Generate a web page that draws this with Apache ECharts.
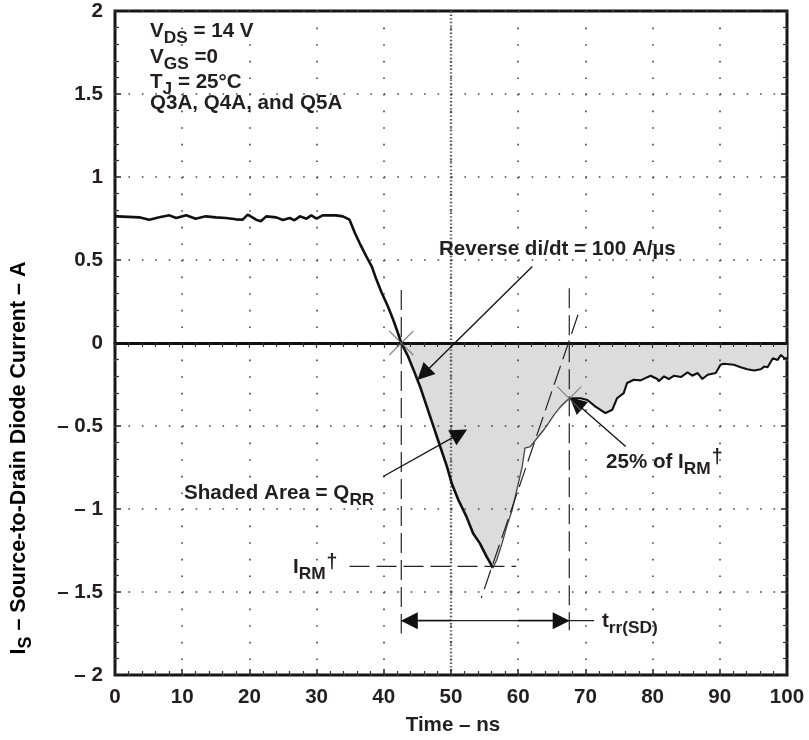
<!DOCTYPE html>
<html><head><meta charset="utf-8">
<script src="https://cdn.jsdelivr.net/npm/echarts@6/dist/echarts.min.js"></script>
<style>html,body{margin:0;padding:0;background:#fff}#c{width:809px;height:740px}</style>
</head><body><div id="c"></div>
<script>
// ---- data ----
const timeNs = [0, 0.3, 3.6, 5.1, 6.6, 8.1, 9.1, 10.6, 12.0, 13.5,
  15.0, 16.5, 18.0, 19.0, 19.75, 21.0, 21.7, 22.5, 24.0, 25.0,
  26.0, 26.7, 27.5, 28.5, 29.2, 30.0, 30.9, 32.9, 33.9, 34.9,
  35.7, 36.4, 37.4, 38.2, 38.9, 39.7, 40.6, 41.4, 42.1, 42.6,
  43.6, 44.6, 45.4, 46.4, 47.4, 48.4, 49.4, 50.1, 51.1, 52.3,
  53.3, 54.3, 55.3, 56.0, 56.2, 56.8, 57.6, 58.3, 59.1, 59.8,
  60.6, 61.0, 61.8, 62.8, 63.8, 64.5, 65.3, 66.3, 67.3, 68.0,
  69.3, 70.3, 71.5, 72.2, 73.0, 74.0, 74.7, 75.7, 76.2, 77.2,
  78.2, 79.7, 80.7, 80.9, 81.7, 82.4, 83.2, 84.2, 85.2, 85.9,
  86.7, 87.4, 88.2, 89.4, 90.1, 90.6, 92.1, 93.1, 94.1, 95.1,
  96.1, 96.6, 97.1, 97.9, 98.6, 99.1, 99.6, 100];
const currentA = [0.763, 0.763, 0.757, 0.743, 0.757, 0.769, 0.753, 0.769, 0.749, 0.763,
  0.757, 0.753, 0.745, 0.743, 0.773, 0.743, 0.733, 0.763, 0.757, 0.741,
  0.753, 0.739, 0.763, 0.749, 0.769, 0.749, 0.769, 0.769, 0.763, 0.743,
  0.663, 0.602, 0.522, 0.462, 0.382, 0.301, 0.221, 0.14, 0.06, 0,
  -0.08, -0.18, -0.263, -0.383, -0.504, -0.625, -0.745, -0.845, -0.946, -1.046,
  -1.147, -1.207, -1.287, -1.337, -1.356, -1.307, -1.207, -1.106, -1.006, -0.884,
  -0.745, -0.634, -0.624, -0.574, -0.524, -0.484, -0.434, -0.383, -0.343, -0.333,
  -0.333, -0.343, -0.383, -0.402, -0.422, -0.402, -0.333, -0.302, -0.241, -0.221,
  -0.225, -0.197, -0.217, -0.231, -0.201, -0.217, -0.197, -0.205, -0.177, -0.197,
  -0.181, -0.217, -0.191, -0.181, -0.131, -0.125, -0.131, -0.146, -0.158, -0.166,
  -0.158, -0.142, -0.146, -0.092, -0.102, -0.072, -0.092, -0.09];
const zeroCrossNs = 42.6;   // start of reverse recovery (shading starts)
const peakNs = 56.2;        // I_RM point
const recoverNs = 68.0;     // end of thin recovery trace
const xTicks = [0, 10, 20, 30, 40, 50, 60, 70, 80, 90, 100];
const yTicks = [-2, -1.5, -1, -0.5, 0, 0.5, 1, 1.5, 2];

// annotation geometry (data units)
const trrStartDash = [[42.6, 0.32], [42.6, -1.75]];
const trrEndDash = [[67.6, 0.33], [67.6, -1.73]];
const irmDash = [[34.9, -1.346], [59.7, -1.346]];
const slopeDash = [[68.9, 0.17], [54.5, -1.536]];
const trrLine = [[42.6, -1.673], [71.3, -1.673]];
const centerGraticule = [[50, 2], [50, -2]];
const arrowSegs = [
  [[62.1, 0.461], [45.9, -0.187]],
  [[39.9, -0.804], [51.3, -0.546]],
  [[76.0, -0.623], [68.6, -0.361]],
  [[50.0, -1.673], [43.8, -1.673]],
  [[60.0, -1.673], [66.4, -1.673]]
];
const crossMarks = [[42.6, 0], [67.6, -0.335]];

// ---- chart ----
const FONT = '"Liberation Sans", Arial, Helvetica, sans-serif';
const INK = '#231f20';
const chart = echarts.init(document.getElementById('c'));
const pts = timeNs.map((t, i) => [t, currentA[i]]);
const iZero = timeNs.indexOf(zeroCrossNs), iMin = timeNs.indexOf(peakNs), iRec = timeNs.indexOf(recoverNs);

const GL = 115, GT = 11, GW = 672, GH = 664;
const FS = 20.6;
const labelStyle = {fontFamily: FONT, fontWeight: 'bold', fontSize: FS, color: INK};
function makeRich(fs) {
  return {
    m: {fontFamily: FONT, fontWeight: 'bold', fontSize: fs, lineHeight: fs + 2, color: INK},
    s: {fontFamily: FONT, fontWeight: 'bold', fontSize: fs * 0.84, lineHeight: 18, padding: [14, 0, 0, 0], color: INK},
    u: {fontFamily: FONT, fontWeight: 'bold', fontSize: fs * 0.95, lineHeight: 18, padding: [0, 0, 8, 1], color: INK}
  };
}
const rich = makeRich(FS);
function txt(x, y, text, align) {
  return {type: 'text', x: x, y: y, z: 50,
    style: {text: text, rich: rich, textAlign: align || 'left', textVerticalAlign: 'middle', fill: INK,
      font: 'bold ' + FS + 'px ' + FONT}};
}

const option = {
  backgroundColor: '#fff',
  animation: false,
  grid: {left: GL, top: GT, width: GW, height: GH, show: true, borderColor: '#161616', borderWidth: 3, backgroundColor: 'transparent'},
  xAxis: [{
    type: 'value', min: 0, max: 100, interval: 10, position: 'bottom', z: 3,
    axisLine: {show: false, onZero: false},
    axisTick: {show: true, inside: true, length: 6, lineStyle: {color: '#222', width: 1.5}},
    minorTick: {show: true, splitNumber: 5, length: 4, lineStyle: {color: '#333', width: 1.2}},
    axisLabel: Object.assign({margin: 12, formatter: v => String(v)}, labelStyle),
    splitLine: {show: true, lineStyle: {color: '#444', width: 1.6, type: [1.6, 15]}}
  }, {
    type: 'value', min: 0, max: 100, interval: 10, position: 'top', z: 4,
    axisLine: {show: true, onZero: true, onZeroAxisIndex: 0, lineStyle: {color: '#111', width: 3}},
    axisTick: {show: true, inside: true, length: 5, lineStyle: {color: '#333', width: 1.2}},
    minorTick: {show: true, splitNumber: 5, length: 4, lineStyle: {color: '#333', width: 1.2}},
    axisLabel: {show: false}, splitLine: {show: false}
  }],
  yAxis: [{
    type: 'value', min: -2, max: 2, interval: 0.5, position: 'left', z: 3,
    axisLine: {show: false, onZero: false},
    axisTick: {show: true, inside: true, length: 6, lineStyle: {color: '#222', width: 1.5}},
    minorTick: {show: true, splitNumber: 5, length: 4, lineStyle: {color: '#333', width: 1.2}},
    axisLabel: Object.assign({margin: 12, formatter: v => (v < 0 ? '\u2013 ' + Math.abs(v) : String(v))}, labelStyle),
    splitLine: {show: true, lineStyle: {color: '#444', width: 1.6, type: [1.6, 11.84]}}
  }, {
    type: 'value', min: -2, max: 2, interval: 0.5, position: 'right', z: 3,
    axisLine: {show: false, onZero: false},
    axisTick: {show: true, inside: true, length: 6, lineStyle: {color: '#222', width: 1.5}},
    minorTick: {show: true, splitNumber: 5, length: 4, lineStyle: {color: '#333', width: 1.2}},
    axisLabel: {show: false}, splitLine: {show: false}
  }],
  series: [
    {type: 'line', data: pts.slice(iZero), symbol: 'none', silent: true, z: 1,
      lineStyle: {width: 0}, areaStyle: {color: '#dcdcdc', opacity: 1}},
    {type: 'line', data: centerGraticule, symbol: 'none', silent: true, z: 2,
      lineStyle: {color: '#555', width: 2.4, type: [1.4, 2.2]}},
    {type: 'line', data: pts.slice(0, iMin + 1), symbol: 'none', z: 6,
      lineStyle: {color: '#111', width: 2.6}},
    {type: 'line', data: pts.slice(iMin, iRec + 1), symbol: 'none', z: 6,
      lineStyle: {color: '#444', width: 1.3}},
    {type: 'line', data: pts.slice(iRec), symbol: 'none', z: 6,
      lineStyle: {color: '#111', width: 2.1}},
    ...[trrStartDash, trrEndDash, irmDash, slopeDash].map(d => ({
      type: 'line', data: d, symbol: 'none', silent: true, z: 7,
      lineStyle: {color: '#222', width: 1.2, type: [20, 7]}})),
    {type: 'line', data: trrLine, symbol: 'none', silent: true, z: 7,
      lineStyle: {color: '#222', width: 1.3}},
    {type: 'lines', coordinateSystem: 'cartesian2d', z: 8, silent: true,
      symbol: ['none', 'triangle'], symbolSize: 17,
      lineStyle: {color: '#111', width: 1.3, opacity: 1, curveness: 0},
      itemStyle: {color: '#111'},
      data: arrowSegs.map(s => ({coords: s}))},
    {type: 'scatter', data: crossMarks, z: 9, silent: true,
      symbol: 'path://M0,0L20,20M20,0L0,20', symbolSize: 24,
      itemStyle: {color: 'transparent', borderColor: '#666', borderWidth: 1.1}}
  ],
  graphic: [
    txt(150, 31, '{m|V}{s|DS}{m| = 14 V}'),
    txt(150, 57, '{m|V}{s|GS}{m| =0}'),
    txt(150, 82, '{m|T}{s|J}{m| = 25\u00B0C}'),
    txt(150, 103, '{m|Q3A, Q4A, and Q5A}'),
    txt(439, 249, '{m|Reverse di/dt = 100 A/\u00B5s}'),
    txt(184, 493, '{m|Shaded Area = Q}{s|RR}'),
    txt(293, 567, '{m|I}{s|RM}{u|\u2020}'),
    txt(606, 462, '{m|25% of I}{s|RM}{u|\u2020}'),
    txt(602, 621, '{m|t}{s|rr(SD)}'),
    txt(453, 725, '{m|Time \u2013 ns}', 'center'),
    {type: 'text', x: 19, y: 458, rotation: Math.PI / 2, z: 50,
      style: {text: '{m|I}{s|S}{m| \u2013 Source-to-Drain Diode Current \u2013 A}', rich: makeRich(21.5),
        textAlign: 'center', textVerticalAlign: 'middle'}}
  ]
};
chart.setOption(option);
</script>
</body></html>
